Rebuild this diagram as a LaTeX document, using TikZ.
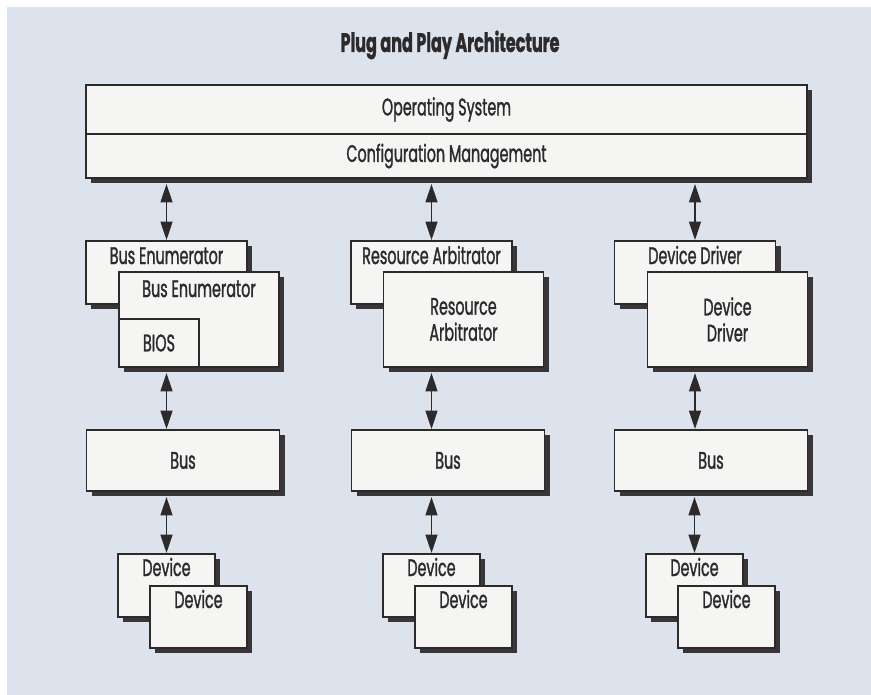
\documentclass[tikz,border=0pt]{standalone}
\usepackage{fontspec}
\setmainfont{Poppins}[FakeStretch=0.6, FakeBold=1.2]
\usetikzlibrary{calc,arrows.meta,shadows}

\definecolor{paper}{RGB}{221,227,236}
\definecolor{boxfill}{RGB}{245,245,244}
\definecolor{ink}{RGB}{45,42,44}
\definecolor{shade}{RGB}{58,54,56}

\tikzset{
  pane/.style 2 args={draw=ink, line width=1.4pt, fill=boxfill, inner sep=0pt,
    minimum width=#1*0.025cm, minimum height=#2*0.025cm,
    text=ink, font=\fontsize{17}{18.5}\selectfont, align=center},
  raised/.style={drop shadow={fill=shade, opacity=1,
    shadow xshift=3.6pt, shadow yshift=-3.6pt}},
  lbl/.style={text=ink, inner sep=0pt, anchor=base,
    font=\fontsize{17}{18.5}\selectfont},
  link/.style={draw=ink, line width=0.9pt,
    {Triangle[length=13pt,width=8.5pt]}-{Triangle[length=13pt,width=8.5pt]}},
}

\begin{document}
\begin{tikzpicture}[x=0.025cm, y=-0.025cm]
  \useasboundingbox (0,0) rectangle (871,695);
  % page with tinted panel
  \fill[white] (0,0) rectangle (871,695);
  \fill[paper] (7,7) rectangle (880,705);

  \node[lbl, font=\bfseries\fontsize{19}{20}\selectfont] (title) at (450,52)
    {Plug and Play Architecture};

  % operating system on top
  \node[pane={721}{49}, raised] (os) at (446.5,109.5) {Operating System};
  \node[pane={721}{44}, raised] (cm) at (446.5,156) {Configuration Management};

  % upper layer, one stacked pair per column
  \node[pane={161}{63}, raised] (top1) at (166.5,272.5) {};
  \node[lbl] (tl1) at ($(top1.north)+(0,24)$) {Bus Enumerator};
  \node[pane={160}{95}, raised] (front1) at (199,319.5) {};
  \node[lbl] (fl1) at ($(front1.north)+(0,26)$) {Bus Enumerator};
  \node[pane={80}{48}] (bios) at (159,343) {BIOS};

  \node[pane={161}{63}, raised] (top2) at (431.5,272.5) {};
  \node[lbl] (tl2) at ($(top2.north)+(0,24)$) {Resource Arbitrator};
  \node[pane={160}{95}, raised] (front2) at (463.5,319.5) {Resource\\Arbitrator};

  \node[pane={161}{63}, raised] (top3) at (695,272.5) {};
  \node[lbl] (tl3) at ($(top3.north)+(0,24)$) {Device Driver};
  \node[pane={160}{95}, raised] (front3) at (727.5,319.5) {Device\\Driver};

  % bus and devices below each column
  \foreach \L/\i in {86/1,351/2,614/3}{
    \node[pane={193}{61}, raised] (bus\i) at (\L+97,460.5) {Bus};
    \node[pane={97}{63}, raised] (db\i) at (\L+80.5,585.5) {};
    \node[lbl] (dbl\i) at ($(db\i.north)+(0,23)$) {Device};
    \node[pane={97}{62}, raised] (df\i) at (\L+112.5,617) {};
    \node[lbl] (dfl\i) at ($(df\i.north)+(0,23)$) {Device};

    \draw[link, shorten <=3.6pt] (top\i.north |- cm.south) -- (top\i.north);
    \draw[link, shorten <=3.6pt] (top\i.center |- front\i.south) -- (top\i.center |- bus\i.north);
    \draw[link, shorten <=3.6pt] (db\i.north |- bus\i.south) -- (db\i.north);
  }
\end{tikzpicture}
\end{document}
